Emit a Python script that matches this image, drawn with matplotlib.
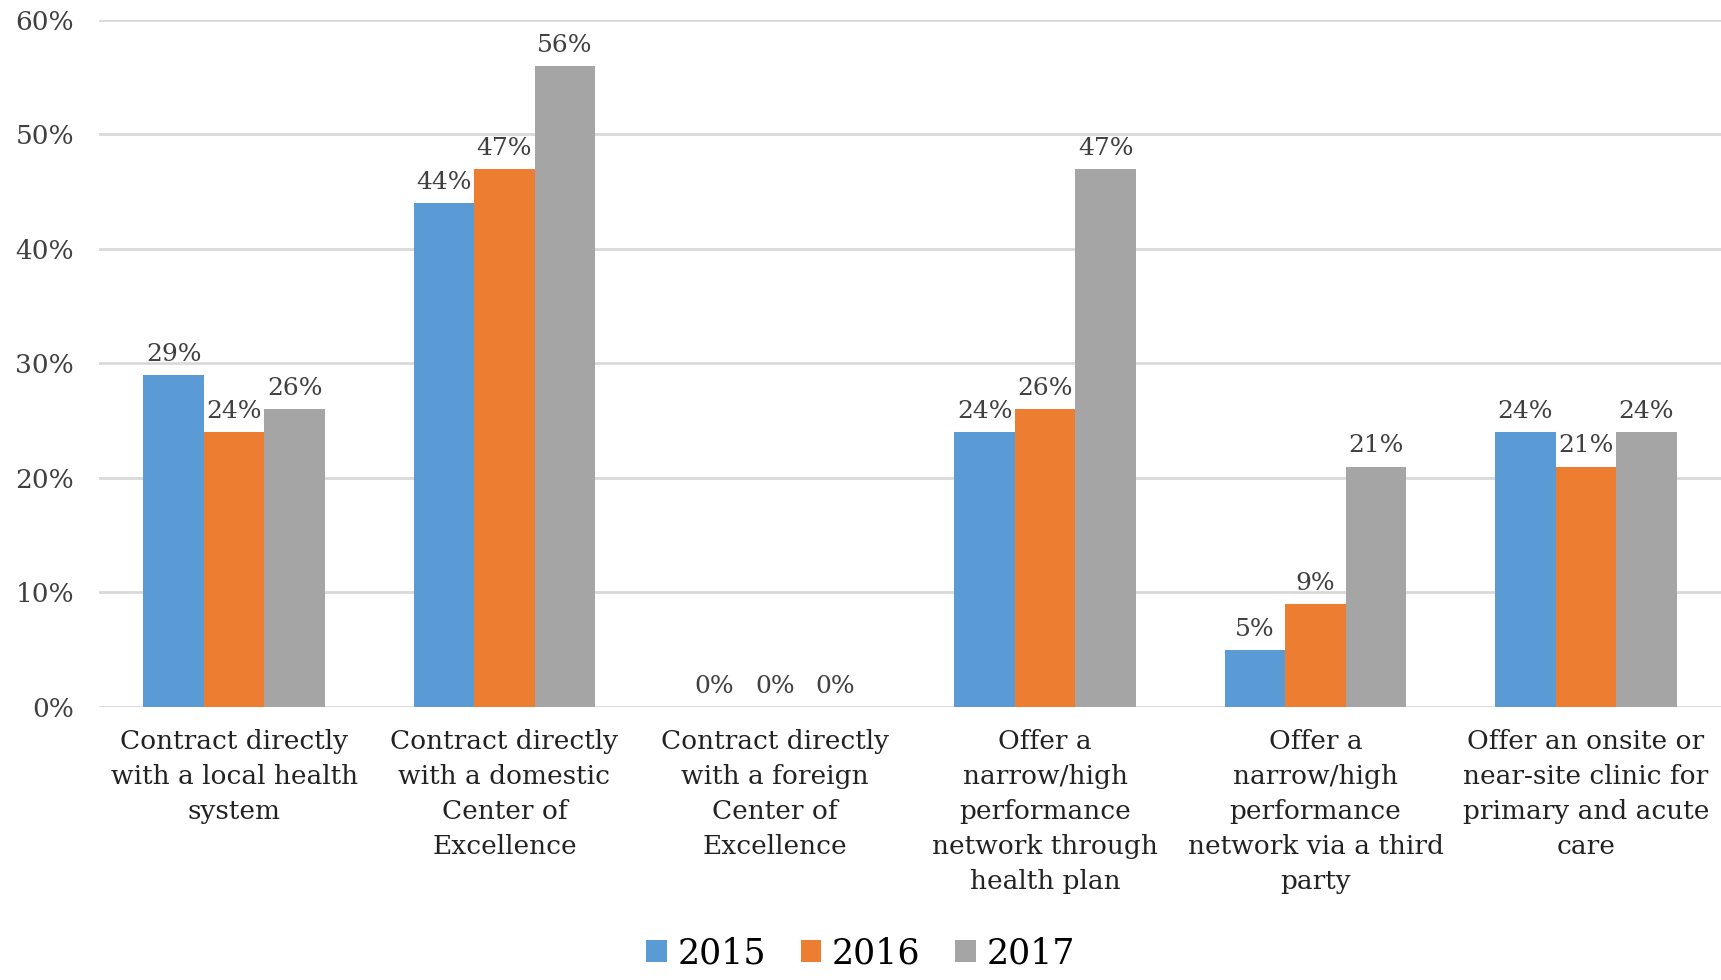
import numpy as np
import matplotlib.pyplot as plt

categories = [
    "Contract directly\nwith a local health\nsystem",
    "Contract directly\nwith a domestic\nCenter of\nExcellence",
    "Contract directly\nwith a foreign\nCenter of\nExcellence",
    "Offer a\nnarrow/high\nperformance\nnetwork through\nhealth plan",
    "Offer a\nnarrow/high\nperformance\nnetwork via a third\nparty",
    "Offer an onsite or\nnear-site clinic for\nprimary and acute\ncare",
]
years = ["2015", "2016", "2017"]
v2015 = [29, 44, 0, 24, 5, 24]
v2016 = [24, 47, 0, 26, 9, 21]
v2017 = [26, 56, 0, 47, 21, 24]
colors = ["#5b9bd5", "#ed7d31", "#a5a5a5"]
yticks = [0, 10, 20, 30, 40, 50, 60]

plt.rcParams['font.family'] = ['DejaVu Serif']

fig = plt.figure(figsize=(17.21, 9.80), dpi=100)
ax = fig.add_axes([0.0575, 0.2786, 0.9425, 0.701])

x = np.arange(len(categories))
w = 0.224
for i, (vals, c, yr) in enumerate(zip([v2015, v2016, v2017], colors, years)):
    pos = x + (i - 1) * w
    ax.bar(pos, vals, width=w, color=c, label=yr, zorder=2)
    for px, v in zip(pos, vals):
        ax.text(px, v + 0.8, f"{v}%", ha='center', va='bottom',
                fontsize=18, color='#404040')

ax.set_xlim(-0.5, len(categories) - 0.5)
ax.set_ylim(0, 60)
ax.set_yticks(yticks)
ax.set_yticklabels([f"{t}%" for t in yticks], fontsize=19, color='#404040')
ax.set_xticks(x)
ax.set_xticklabels(categories, fontsize=19, color='#222222', linespacing=1.5)
ax.tick_params(axis='both', length=0)
ax.tick_params(axis='x', pad=16)
ax.tick_params(axis='y', pad=18)
ax.yaxis.grid(True, color='#d9d9d9', linewidth=2, zorder=0)
ax.set_axisbelow(True)
for s in ax.spines.values():
    s.set_visible(False)

fig.legend(loc='lower center', bbox_to_anchor=(0.5, -0.022), ncol=3,
           frameon=False, fontsize=25, handlelength=0.6, handleheight=0.6,
           handletextpad=0.3, columnspacing=1.0)

fig.savefig("out.png", dpi=100)
